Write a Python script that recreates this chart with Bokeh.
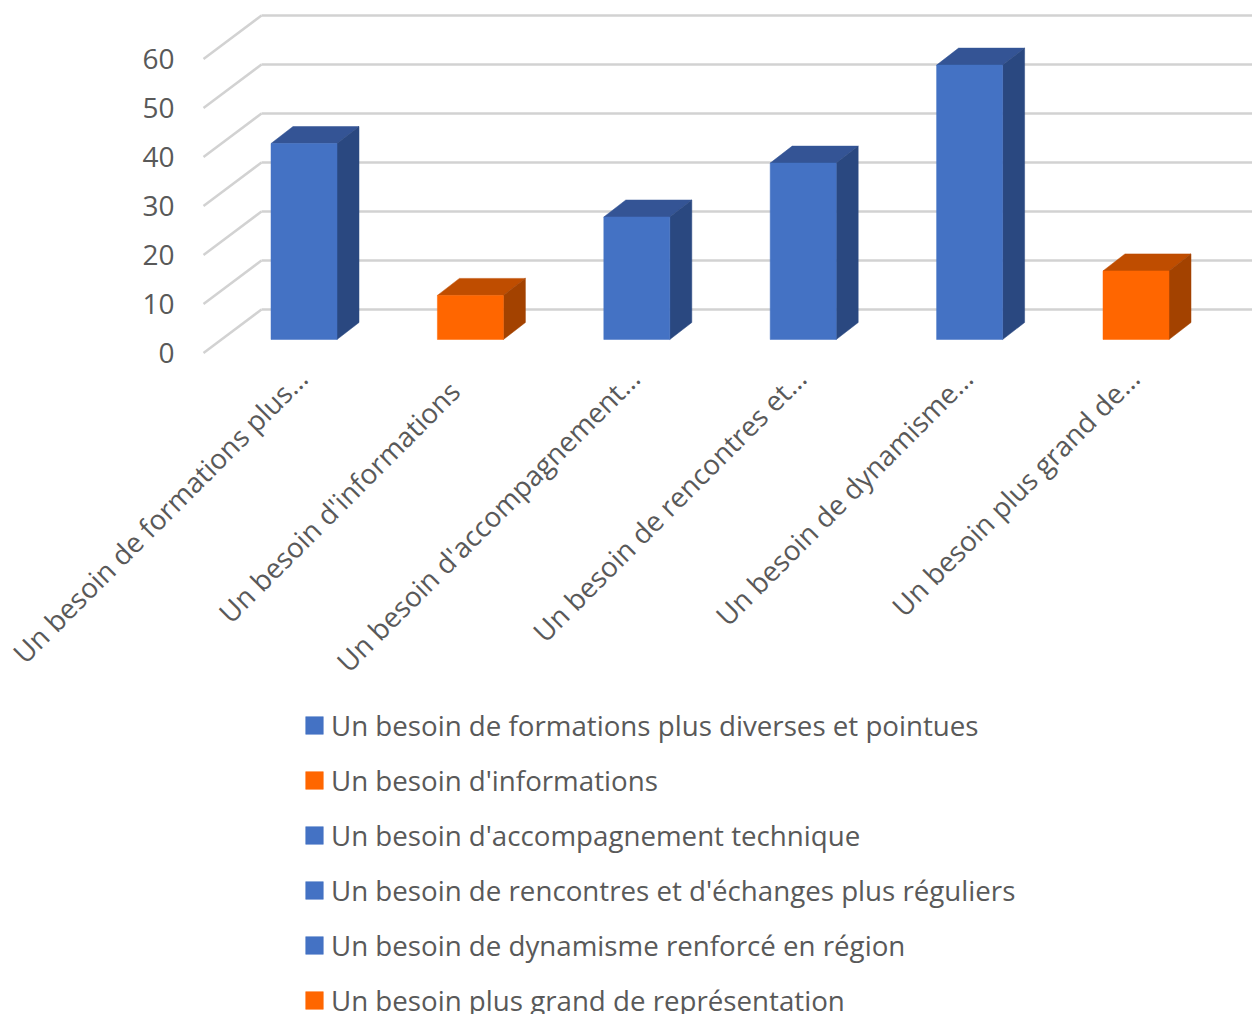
import math
from bokeh.core.properties import value
from bokeh.embed import file_html
from bokeh.resources import INLINE
from bokeh.plotting import figure
from bokeh.models import ColumnDataSource, FixedTicker, Legend, LegendItem, Range1d

categories = [
    "Un besoin de formations plus diverses et pointues",
    "Un besoin d'informations",
    "Un besoin d'accompagnement technique",
    "Un besoin de rencontres et d'échanges plus réguliers",
    "Un besoin de dynamisme renforcé en région",
    "Un besoin plus grand de représentation",
]
tick_labels = [
    "Un besoin de formations plus…",
    "Un besoin d'informations",
    "Un besoin d'accompagnement…",
    "Un besoin de rencontres et…",
    "Un besoin de dynamisme…",
    "Un besoin plus grand de…",
]
values = [40, 9, 25, 36, 56, 14]
y_ticks = [0, 10, 20, 30, 40, 50, 60]
front_colors = ["#4472C4", "#FF6600", "#4472C4", "#4472C4", "#4472C4", "#FF6600"]
top_colors = ["#345495", "#BF4D00", "#345495", "#345495", "#345495", "#BF4D00"]
side_colors = ["#2A4880", "#A34200", "#2A4880", "#2A4880", "#2A4880", "#A34200"]

# layout constants (window pixels)
W, H = 1252, 1014
PX_PER_CAT, PX_PER_VAL = 166.4, 4.9
X0_PX, Y0_PX = 303.5, 352.5
AXIS_PX = 196
ux = 1 / PX_PER_CAT
uy = 1 / PX_PER_VAL
bar_w = 66 * ux
bar_dx, bar_dy = 22 * ux, 17 * uy
base = 13.5 * uy
wall_dx, wall_dy = 58 * ux, 43.5 * uy
wall_x = (203 - X0_PX) * ux
label_y = (Y0_PX - 372.5) * uy
label_dx = [-2, -16, -2.5, -2.5, -2.5, -2]
label_dy = [0, 13, 0, 0, 0, 0]
text_color = "#595959"
font_px = "27.7px"

p = figure(
    width=W, height=H, output_backend="svg", toolbar_location=None,
    x_range=Range1d(-X0_PX * ux, (W - X0_PX) * ux),
    y_range=Range1d((Y0_PX - H) * uy, Y0_PX * uy),
    min_border_left=0, min_border_right=0, min_border_top=0, min_border_bottom=0,
    outline_line_color=None, background_fill_color="white",
)
p.grid.visible = False

# walls
grid_color = "#D2D2D2"
p.segment([wall_x] * 7, y_ticks, [wall_x + wall_dx] * 7, [v + wall_dy for v in y_ticks],
          line_color=grid_color, line_width=2.5)
p.segment([wall_x + wall_dx] * 7, [v + wall_dy for v in y_ticks], [20] * 7, [v + wall_dy for v in y_ticks],
          line_color=grid_color, line_width=2.5)

# 3D bars
xs = list(range(len(values)))
l = [x - bar_w / 2 for x in xs]
r = [x + bar_w / 2 for x in xs]
t = [v + base for v in values]
p.patches(
    [[a, b, b + bar_dx, a + bar_dx] for a, b in zip(l, r)],
    [[c, c, c + bar_dy, c + bar_dy] for c in t],
    fill_color=top_colors, line_color=top_colors, line_width=0.5,
)
p.patches(
    [[b, b + bar_dx, b + bar_dx, b] for b in r],
    [[base, base + bar_dy, c + bar_dy, c] for c in t],
    fill_color=side_colors, line_color=side_colors, line_width=0.5,
)
src = ColumnDataSource(dict(x=xs, bottom=[base] * 6, top=t, color=front_colors))
front = p.vbar(x="x", bottom="bottom", top="top", width=bar_w, source=src,
               fill_color="color", line_color="color", line_width=0.5)

# axes
ya = p.yaxis[0]
ya.fixed_location = (AXIS_PX - X0_PX) * ux
ya.ticker = FixedTicker(ticks=y_ticks)
ya.axis_line_color = None
ya.major_tick_line_color = None
ya.minor_tick_line_color = None
ya.major_tick_out = 0
ya.major_label_standoff = 22
ya.major_label_text_font = "Open Sans"
ya.major_label_text_font_size = "28px"
ya.major_label_text_color = text_color

p.xaxis.visible = False
label_src = ColumnDataSource(dict(x=xs, y=[label_y] * 6, text=tick_labels, dx=label_dx, dy=label_dy))
p.text(x="x", y="y", text="text", x_offset="dx", y_offset="dy", source=label_src,
       angle=math.pi / 4, text_align="right", text_baseline="middle",
       text_font=value("Open Sans"), text_font_size=value(font_px), text_color=text_color)

legend = Legend(
    items=[LegendItem(label=c, renderers=[front], index=i) for i, c in enumerate(categories)],
    location=(303, -5),
    orientation="vertical", padding=0, margin=0, spacing=17,
    border_line_color=None, background_fill_alpha=0,
    glyph_width=22, glyph_height=22, label_standoff=6,
    label_text_font="Open Sans", label_text_font_size=font_px, label_text_color=text_color,
)
p.add_layout(legend, "center")

open("out.html", "w").write(file_html(p, INLINE))
